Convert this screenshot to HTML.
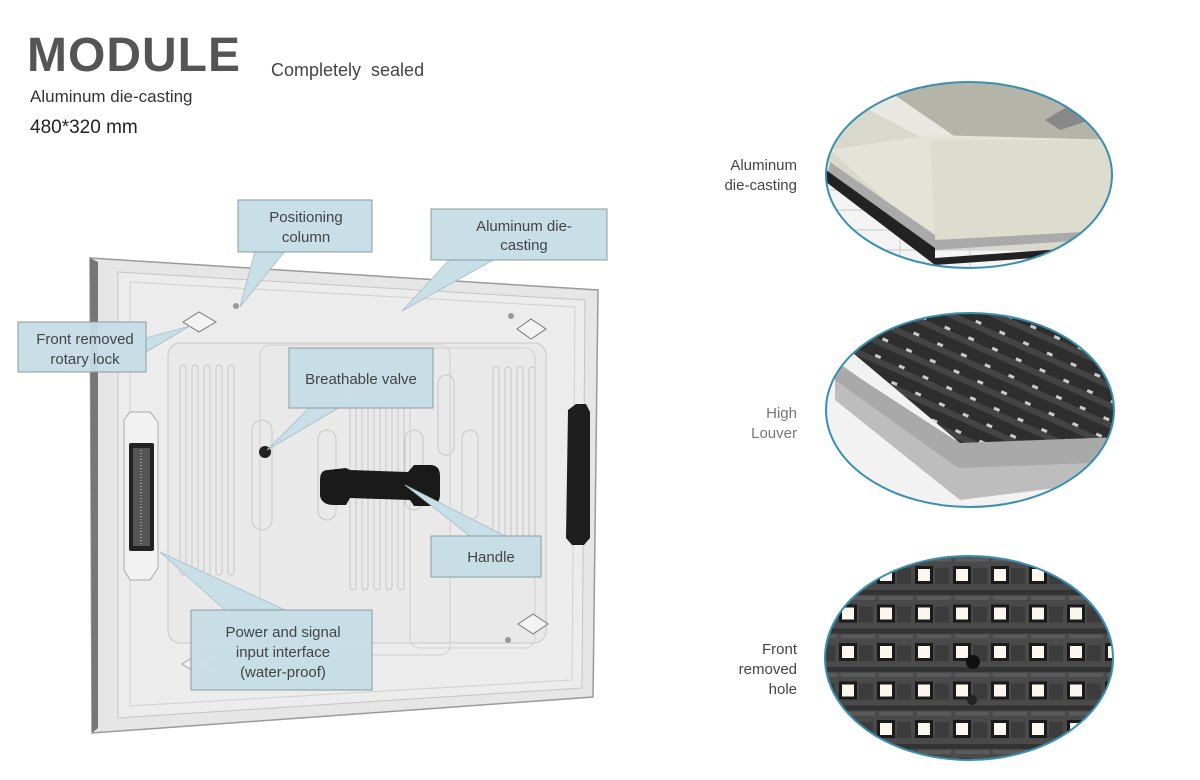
<!DOCTYPE html>
<html><head><meta charset="utf-8"><style>
html,body{margin:0;padding:0;background:#fff;}
body{width:1200px;height:780px;position:relative;overflow:hidden;font-family:"Liberation Sans","DejaVu Sans",sans-serif;color:#444;}
.t{position:absolute;white-space:nowrap;}
</style></head><body>
<div class="t" style="left:27px;top:29px;font-size:48px;font-weight:bold;color:#555;letter-spacing:1px;line-height:54px;">MODULE</div>
<div class="t" style="left:271px;top:60px;font-size:18px;color:#444;">Completely&nbsp; sealed</div>
<div class="t" style="left:30px;top:87px;font-size:17px;color:#333;">Aluminum die-casting</div>
<div class="t" style="left:30px;top:117px;font-size:19px;color:#222;">480*320 mm</div>

<svg width="1200" height="780" style="position:absolute;left:0;top:0" xmlns="http://www.w3.org/2000/svg">
<defs>
<clipPath id="c1"><ellipse cx="969" cy="175" rx="143" ry="93"/></clipPath>
<clipPath id="c2"><ellipse cx="970" cy="410" rx="144" ry="97"/></clipPath>
<clipPath id="c3"><ellipse cx="969" cy="658" rx="144" ry="102"/></clipPath>
<pattern id="led" x="839" y="566" width="38" height="38.5" patternUnits="userSpaceOnUse">
<rect width="38" height="38.5" fill="#4a4a4a"/>
<rect x="0" y="24" width="38" height="5" fill="#333"/>
<rect x="2" y="30" width="34" height="4" fill="#5a5a5a"/>
<rect x="20" y="2" width="14" height="16" fill="#3c3c3c"/>
<rect x="0" y="0" width="18" height="18" fill="#1a1a1a"/>
<rect x="3" y="3" width="12" height="12" fill="#fbf6ee"/>
</pattern>
<pattern id="lv" width="26" height="18" patternUnits="userSpaceOnUse" patternTransform="rotate(24)">
<rect width="26" height="18" fill="#2e2e2e"/>
<rect x="0" y="6" width="26" height="6" fill="#444"/>
<rect x="8" y="3" width="6" height="3" fill="#ccc"/>
</pattern>
</defs>

<polygon points="90,258 598,290 593,697 92,733" fill="#e6e6e6" stroke="#9a9a9a" stroke-width="1.5"/>
<polygon points="90,258 98,262 98,728 92,733" fill="#777"/>
<polygon points="118,272 585,300 582,688 118,718" fill="#ececec" stroke="#c4c4c4"/>
<polygon points="130,282 575,307 572,680 130,706" fill="none" stroke="#d0d0d0"/>
<rect x="168" y="343" width="378" height="300" rx="12" fill="#e9e9e9" stroke="#c8c8c8"/>
<rect x="260" y="345" width="190" height="310" rx="10" fill="none" stroke="#cfcfcf"/>
<rect x="410" y="348" width="125" height="300" rx="10" fill="none" stroke="#cfcfcf"/>
<g stroke="#c8c8c8" fill="none">
<rect x="180" y="365" width="6" height="210" rx="3"/><rect x="192" y="365" width="6" height="210" rx="3"/><rect x="204" y="365" width="6" height="210" rx="3"/><rect x="216" y="365" width="6" height="210" rx="3"/><rect x="228" y="365" width="6" height="210" rx="3"/>
<rect x="350" y="370" width="6" height="220" rx="3"/><rect x="362" y="370" width="6" height="220" rx="3"/><rect x="374" y="370" width="6" height="220" rx="3"/><rect x="386" y="370" width="6" height="220" rx="3"/><rect x="398" y="370" width="6" height="220" rx="3"/>
<rect x="493" y="367" width="6" height="200" rx="3"/><rect x="505" y="367" width="6" height="200" rx="3"/><rect x="517" y="367" width="6" height="200" rx="3"/><rect x="529" y="367" width="6" height="200" rx="3"/>
<rect x="252" y="420" width="20" height="110" rx="10"/><rect x="318" y="430" width="18" height="90" rx="9"/><rect x="405" y="430" width="18" height="80" rx="9"/><rect x="438" y="375" width="16" height="80" rx="8"/><rect x="462" y="430" width="16" height="90" rx="8"/>
</g>
<polygon points="124,420 130,412 150,412 158,422 158,568 150,580 130,580 124,570" fill="#f2f2f2" stroke="#aaa"/>
<rect x="129" y="443" width="25" height="108" rx="2" fill="#222"/>
<rect x="133" y="448" width="17" height="98" fill="#555"/>
<line x1="141" y1="450" x2="141" y2="544" stroke="#ccc" stroke-dasharray="1 2"/>
<polygon points="568,410 576,404 586,404 590,412 590,538 584,545 572,545 566,538" fill="#1e1e1e"/>
<path d="M328,470 Q320,470 320,480 L320,496 Q322,505 334,505 L346,505 L350,498 L410,500 L414,506 L432,506 Q440,504 440,494 L440,476 Q440,465 430,465 L414,465 L408,472 L350,470 L346,468 Z" fill="#1a1a1a"/>
<circle cx="265" cy="452" r="6" fill="#222"/>
<g fill="#f3f3f3" stroke="#777">
<polygon points="183,322 199,312 216,322 199,332"/>
<polygon points="517,329 531,319 546,329 531,339"/>
<polygon points="518,624 533,614 548,624 533,634"/>
<polygon points="182,664 198,654 214,664 198,674" opacity="0.6"/>
</g>
<circle cx="236" cy="306" r="3" fill="#999"/><circle cx="511" cy="316" r="3" fill="#999"/><circle cx="508" cy="640" r="3" fill="#999"/>

<g fill="#c9dfe7" stroke="#a8bcc4" stroke-width="0.8">
<polygon points="255,251 240,307 285,251"/>
<polygon points="450,259 402,311 495,259"/>
<polygon points="146,338 190,326 146,352"/>
<polygon points="310,407 267,450 340,407"/>
<polygon points="470,536 405,485 505,536"/>
<polygon points="225,610 160,552 285,610"/>
</g>
<g fill="#c5dde6" fill-opacity="0.95" stroke="#8a9aa2" stroke-width="1">
<rect x="238" y="200" width="134" height="52"/>
<rect x="431" y="209" width="176" height="51"/>
<rect x="18" y="322" width="128" height="50"/>
<rect x="289" y="348" width="144" height="60"/>
<rect x="431" y="536" width="110" height="41"/>
<rect x="191" y="610" width="181" height="80"/>
</g>
<g font-family="Liberation Sans, sans-serif" font-size="15" fill="#444" text-anchor="middle">
<text x="306" y="222">Positioning</text><text x="306" y="242">column</text>
<text x="524" y="231">Aluminum die-</text><text x="524" y="250">casting</text>
<text x="85" y="344">Front removed</text><text x="85" y="364">rotary lock</text>
<text x="361" y="384">Breathable valve</text>
<text x="491" y="562">Handle</text>
<text x="283" y="637">Power and signal</text><text x="283" y="657">input interface</text><text x="283" y="677">(water-proof)</text>
</g>

<g clip-path="url(#c1)">
<rect x="820" y="75" width="300" height="200" fill="#f4f4f4"/>
<g stroke="#bbb" stroke-width="0.7"><line x1="820" y1="170" x2="1000" y2="170"/><line x1="820" y1="190" x2="1000" y2="190"/><line x1="820" y1="210" x2="1000" y2="210"/><line x1="820" y1="230" x2="1000" y2="230"/><line x1="820" y1="250" x2="1120" y2="250"/><line x1="900" y1="230" x2="900" y2="280"/><line x1="970" y1="240" x2="970" y2="280"/></g>
<polygon points="820,75 1120,75 1120,250 930,250 820,155" fill="#d8d8cc"/>
<polygon points="860,75 1120,75 1100,145 930,140" fill="#b4b4a8"/>
<polygon points="850,100 880,85 960,140 930,142" fill="#e8e8e0"/>
<polygon points="830,150 930,135 1120,140 1120,230 930,240" fill="#e3e3d8"/>
<polygon points="930,140 1120,140 1120,230 935,240" fill="#dcdccf"/>
<polygon points="830,162 935,235 935,248 828,172" fill="#aaa"/>
<polygon points="935,240 1120,230 1120,238 935,250" fill="#aaa"/>
<polygon points="826,170 935,248 935,258 1120,245 1120,252 935,265 826,182" fill="#222"/>
<polygon points="1045,120 1070,105 1090,120 1060,130" fill="#888"/>
</g>
<ellipse cx="969" cy="175" rx="143" ry="93" fill="none" stroke="#3a8fae" stroke-width="2"/>
<g clip-path="url(#c2)">
<rect x="820" y="300" width="300" height="220" fill="#f2f2f2"/>
<polygon points="835,360 960,450 1120,445 1120,480 960,500 835,400" fill="#bdbdbd"/>
<polygon points="835,362 955,440 1120,436 1120,462 958,468 835,380" fill="#a9a9a9"/>
<polygon points="853,353 960,443 1120,437 1120,300 900,300" fill="url(#lv)"/>
</g>
<ellipse cx="970" cy="410" rx="144" ry="97" fill="none" stroke="#3a8fae" stroke-width="2"/>
<g clip-path="url(#c3)">
<rect x="820" y="550" width="300" height="220" fill="url(#led)"/>
<circle cx="973" cy="662" r="7" fill="#111"/>
<circle cx="972" cy="700" r="5" fill="#222"/>
</g>
<ellipse cx="969" cy="658" rx="144" ry="102" fill="none" stroke="#3a8fae" stroke-width="2"/>

<g font-family="Liberation Sans, sans-serif" font-size="15" text-anchor="end">
<text x="797" y="170" fill="#444">Aluminum</text><text x="797" y="190" fill="#444">die-casting</text>
<text x="797" y="418" fill="#777">High</text><text x="797" y="438" fill="#777">Louver</text>
<text x="797" y="654" fill="#444">Front</text><text x="797" y="674" fill="#444">removed</text><text x="797" y="694" fill="#444">hole</text>
</g>
</svg>
</body></html>
